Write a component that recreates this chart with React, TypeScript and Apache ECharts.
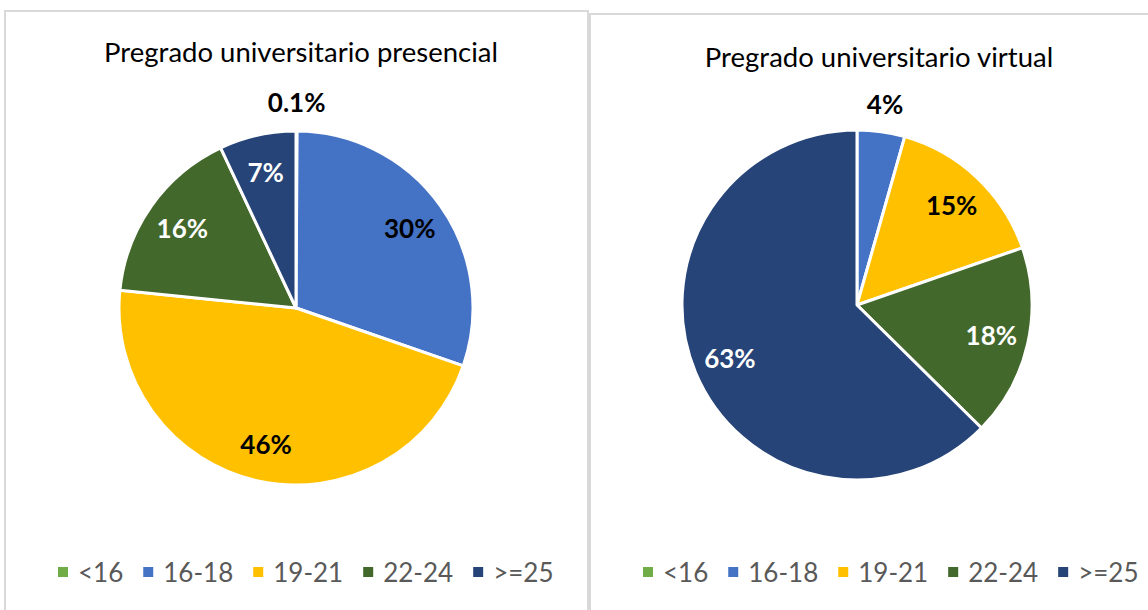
import React, { useEffect, useRef } from "react";
import * as echarts from "echarts";

const categories = ["<16", "16-18", "19-21", "22-24", ">=25"];
const presencialValues = [0.1, 30.2, 46.3, 16.4, 7.0];
const virtualValues = [0, 4.4, 15.3, 17.7, 62.6];
const chartTitles = ["Pregrado universitario presencial", "Pregrado universitario virtual"];

const COLORS = ["#70AD47", "#4472C4", "#FFC000", "#43682B", "#264478"];
const LABEL_COLORS = ["#000000", "#000000", "#000000", "#FFFFFF", "#FFFFFF"];
const FONT = "Lato, 'Open Sans', sans-serif";

function fmt(p: number) {
  return p < 1 ? p.toFixed(1) + "%" : Math.round(p) + "%";
}

function makeSeries(values: number[], center: number[], r: number) {
  const total = values.reduce((a, b) => a + b, 0);
  const pct = (v: number) => (v / total) * 100;
  const base = {
    type: "pie",
    center,
    startAngle: 90,
    clockwise: true,
    animation: false,
    avoidLabelOverlap: false,
    labelLine: { show: false },
    emphasis: { disabled: true },
  };
  const main = {
    ...base,
    radius: [0, r],
    itemStyle: { borderColor: "#FFFFFF", borderWidth: 3 },
    label: { show: false },
    data: values.map((v, i) => ({ name: categories[i], value: v, itemStyle: { color: COLORS[i] } })),
  };
  const inner = {
    ...base,
    silent: true,
    radius: [r * 0.54, r],
    itemStyle: { color: "transparent", borderWidth: 0 },
    data: values.map((v, i) => ({
      name: categories[i],
      value: v,
      itemStyle: { color: "transparent" },
      label: {
        show: v > 0 && pct(v) >= 5,
        position: "inside",
        color: LABEL_COLORS[i],
        fontFamily: FONT,
        fontWeight: "bold",
        fontSize: 26,
        formatter: (p: any) => fmt(p.percent),
      },
    })),
  };
  const outer = {
    ...base,
    silent: true,
    radius: [r, r * 1.29],
    itemStyle: { color: "transparent", borderWidth: 0 },
    data: values.map((v, i) => ({
      name: categories[i],
      value: v,
      itemStyle: { color: "transparent" },
      label: {
        show: v > 0 && pct(v) < 5,
        position: "inside",
        color: "#000000",
        fontFamily: FONT,
        fontWeight: "bold",
        fontSize: 26,
        formatter: (p: any) => fmt(p.percent),
      },
    })),
  };
  return [main, inner, outer];
}

export default function App() {
  const ref = useRef<HTMLDivElement>(null);
  useEffect(() => {
    if (!ref.current) return;
    const chart = echarts.init(ref.current, undefined, { renderer: "svg" });
    const legendBase = {
      data: categories,
      orient: "horizontal",
      icon: "rect",
      itemWidth: 12,
      itemHeight: 12,
      itemGap: 18,
      padding: 0,
      top: 559,
      width: 560,
      selectedMode: false,
      textStyle: { fontFamily: FONT, fontSize: 26, color: "#595959", lineHeight: 26, padding: [0, 0, 0, 4] },
    };
    chart.setOption({
      animation: false,
      backgroundColor: "#FFFFFF",
      graphic: [
        { type: "rect", shape: { x: 5, y: 11, width: 583, height: 610 }, style: { fill: "#FFFFFF", stroke: "#D9D9D9", lineWidth: 2 }, z: -10 },
        { type: "rect", shape: { x: 590, y: 14, width: 570, height: 610 }, style: { fill: "#FFFFFF", stroke: "#D9D9D9", lineWidth: 2 }, z: -10 },
      ],
      title: [
        { text: chartTitles[0], left: 296, top: 32, textAlign: "center", textStyle: { fontFamily: FONT, fontSize: 27.5, fontWeight: "normal", color: "#000000" } },
        { text: chartTitles[1], left: 874, top: 37, textAlign: "center", textStyle: { fontFamily: FONT, fontSize: 27.5, fontWeight: "normal", color: "#000000" } },
      ],
      legend: [
        { ...legendBase, left: 56 },
        { ...legendBase, left: 641 },
      ],
      series: [
        ...makeSeries(presencialValues, [296, 308], 177),
        ...makeSeries(virtualValues, [857, 305], 175),
      ],
    });
    return () => chart.dispose();
  }, []);
  return (
    <div
      ref={ref}
      style={{ position: "fixed", left: 0, top: 0, width: 1148, height: 610, background: "#fff" }}
    />
  );
}
